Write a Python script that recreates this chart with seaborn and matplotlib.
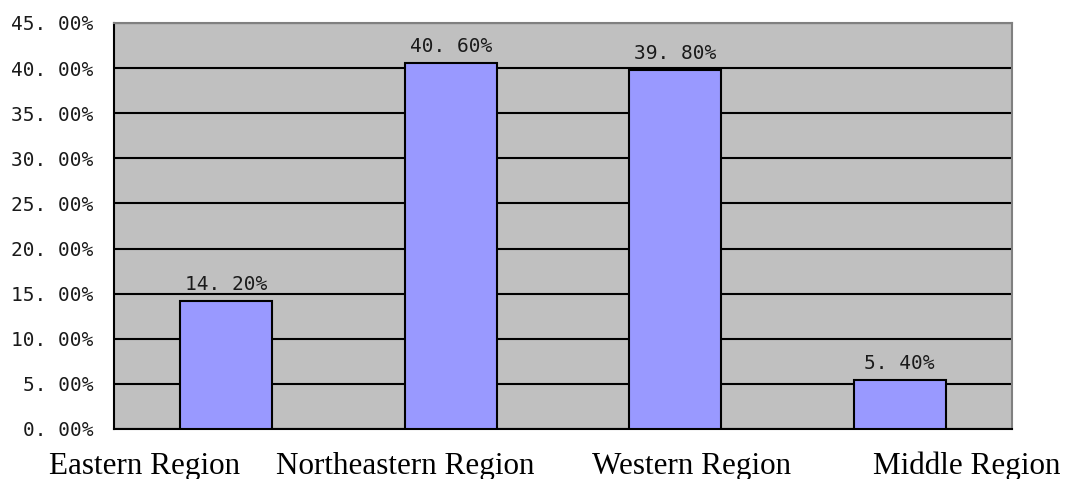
import pandas as pd
import matplotlib
matplotlib.use('Agg')
import matplotlib.pyplot as plt
import matplotlib.ticker as mticker
import seaborn as sns

# Chart data
regions = ['Eastern Region', 'Northeastern Region', 'Western Region', 'Middle Region']
shares = [14.2, 40.6, 39.8, 5.4]
y_ticks = [0, 5, 10, 15, 20, 25, 30, 35, 40, 45]

df = pd.DataFrame({'region': regions, 'share': shares})

sns.set_style('white')
plt.rcParams['font.family'] = ['DejaVu Sans Mono', 'Liberation Mono']
plt.rcParams['text.color'] = 'black'


def pct(v):
    # mimic the "45. 00%" style of the original axis labels
    return f"{v:.2f}%".replace('.', '. ')


fig = plt.figure(figsize=(10.69, 4.79), dpi=100)
ax = fig.add_axes([0.1066, 0.1044, 0.84, 0.8476])
ax.set_facecolor('#C0C0C0')

sns.barplot(data=df, x='region', y='share', order=regions, color='#9999FF',
            edgecolor='black', linewidth=1.5, width=0.41, saturation=1, ax=ax, zorder=3)

ax.set_ylim(0, 45)
ax.set_xlim(-0.5, len(regions) - 0.5)
ax.set_yticks(y_ticks)
ax.yaxis.set_major_formatter(mticker.FuncFormatter(lambda v, p: pct(v)))
ax.yaxis.grid(True, color='black', linewidth=1.5, zorder=1)
ax.set_axisbelow(True)
ax.tick_params(axis='y', direction='in', length=4, labelsize=14, pad=15,
               colors='black', labelcolor='#1a1a1a')
ax.set_xticks([0.5, 1.5, 2.5])
ax.set_xticklabels([])
ax.tick_params(axis='x', direction='in', length=5, width=1.5, colors='black')
ax.set_xlabel('')
ax.set_ylabel('')

for s in ['left', 'bottom']:
    ax.spines[s].set_color('black')
    ax.spines[s].set_linewidth(1.5)
for s in ['top', 'right']:
    ax.spines[s].set_color('#808080')
    ax.spines[s].set_linewidth(1.5)

for c in ax.containers:
    ax.bar_label(c, labels=[pct(v) for v in shares], padding=5, fontsize=14,
                 color='#1a1a1a')

# category names sit below the axis, placed loosely as in the original
label_x = [145, 405, 692, 967]
for name, x in zip(regions, label_x):
    fig.text(x / 1069, 1 - 474 / 479, name, ha='center', va='baseline',
             fontsize=22.4, family='Liberation Serif', color='black')

plt.savefig('out.png', dpi=100)
